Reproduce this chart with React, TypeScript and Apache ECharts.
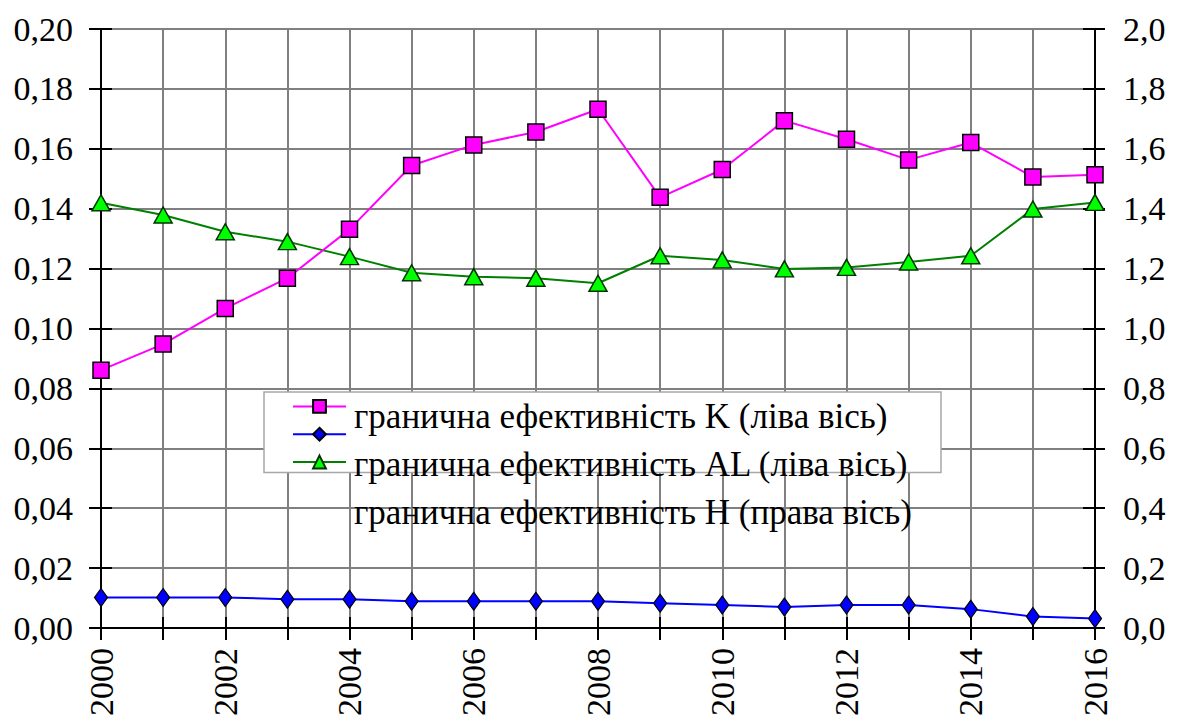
import React, { useEffect, useRef } from "react";
import * as echarts from "echarts";

const years = ["2000","2001","2002","2003","2004","2005","2006","2007","2008","2009","2010","2011","2012","2013","2014","2015","2016"];
const seriesK = [0.0861, 0.0948, 0.1067, 0.1168, 0.1331, 0.1544, 0.1613, 0.1656, 0.1732, 0.1438, 0.1531, 0.1694, 0.1632, 0.1563, 0.1621, 0.1506, 0.1513];
const seriesAL = [0.0102, 0.0102, 0.0102, 0.0096, 0.0096, 0.0089, 0.0089, 0.0089, 0.0089, 0.0083, 0.0077, 0.0070, 0.0077, 0.0077, 0.0063, 0.0038, 0.0032];
const seriesH = [1.420, 1.379, 1.323, 1.290, 1.240, 1.186, 1.173, 1.168, 1.151, 1.243, 1.229, 1.199, 1.204, 1.222, 1.243, 1.399, 1.421];
const leftTicks = [0, 0.02, 0.04, 0.06, 0.08, 0.1, 0.12, 0.14, 0.16, 0.18, 0.2];
const rightTicks = [0, 0.2, 0.4, 0.6, 0.8, 1.0, 1.2, 1.4, 1.6, 1.8, 2.0];
const yearLabels = ["2000","2002","2004","2006","2008","2010","2012","2014","2016"];
const names = [
  "гранична ефективність K (ліва вісь)",
  "гранична ефективність AL (ліва вісь)",
  "гранична ефективність H (права вісь)",
];

const FONT = "Liberation Serif";
const TICK_SIZE = 34;
const LEGEND_SIZE = 35;

export default function App() {
  const ref = useRef<HTMLDivElement>(null);
  useEffect(() => {
    const chart = echarts.init(ref.current!, undefined, { renderer: "svg" });
    const axisLineStyle = { color: "#000", width: 2 };
    const baseY = (min: number, max: number, interval: number) => ({
      type: "value" as const,
      min,
      max,
      interval,
    });
    chart.setOption({
      animation: false,
      backgroundColor: "#fff",
      grid: { left: 101, right: 88, top: 29, bottom: 94, containLabel: false },
      legend: {
        left: 264,
        top: 392,
        orient: "vertical",
        padding: [7, 586, 3, 28],
        itemGap: 13,
        itemWidth: 53,
        itemHeight: 16,
        borderColor: "#a8a8a8",
        borderWidth: 1.5,
        backgroundColor: "#fff",
        formatter: () => "",
        textStyle: { fontFamily: FONT, fontSize: LEGEND_SIZE, lineHeight: LEGEND_SIZE, color: "#000", padding: [0, 0, 0, 4] },
        data: names,
      },
      xAxis: [
        {
          type: "category",
          data: years,
          boundaryGap: false,
          axisLine: { lineStyle: axisLineStyle },
          axisTick: { show: true, interval: 0, length: 12, lineStyle: { color: "#000", width: 2 } },
          axisLabel: { show: false },
          splitLine: { show: true, interval: 0, lineStyle: { color: "#808080", width: 2 } },
        },
        {
          type: "category",
          data: years,
          boundaryGap: false,
          position: "bottom",
          axisLine: { show: false },
          axisTick: { show: true, inside: true, interval: 0, length: 11, lineStyle: { color: "#000", width: 2 } },
          axisLabel: { show: false },
          splitLine: { show: false },
        },
      ],
      yAxis: [
        {
          ...baseY(0, 0.2, 0.02),
          position: "left",
          axisLine: { show: true, lineStyle: axisLineStyle },
          axisTick: { show: true, length: 12, lineStyle: { color: "#000", width: 2 } },
          axisLabel: { show: false },
          splitLine: { show: true, lineStyle: { color: "#808080", width: 2 } },
        },
        {
          ...baseY(0, 2, 0.2),
          position: "right",
          axisLine: { show: true, lineStyle: axisLineStyle },
          axisTick: { show: true, length: 10, lineStyle: { color: "#000", width: 2 } },
          axisLabel: { show: false },
          splitLine: { show: false },
        },
        {
          ...baseY(0, 0.2, 0.02),
          position: "left",
          axisLine: { show: false },
          axisTick: { show: true, inside: true, length: 11, lineStyle: { color: "#000", width: 2 } },
          axisLabel: { show: false },
          splitLine: { show: false },
        },
        {
          ...baseY(0, 2, 0.2),
          position: "right",
          axisLine: { show: false },
          axisTick: { show: true, inside: true, length: 12, lineStyle: { color: "#000", width: 2 } },
          axisLabel: { show: false },
          splitLine: { show: false },
        },
      ],
      series: [
        {
          name: names[0],
          type: "line",
          yAxisIndex: 0,
          data: seriesK,
          symbol: "rect",
          symbolSize: 16,
          z: 4,
          lineStyle: { color: "#ff00ff", width: 2 },
          itemStyle: { color: "#ff00ff", borderColor: "#000", borderWidth: 1.5 },
        },
        {
          name: names[1],
          type: "line",
          yAxisIndex: 0,
          data: seriesAL,
          symbol: "diamond",
          symbolSize: [13, 18],
          z: 4,
          lineStyle: { color: "#0000ff", width: 2 },
          itemStyle: { color: "#0000ff", borderColor: "#000", borderWidth: 1.2 },
        },
        {
          name: names[2],
          type: "line",
          yAxisIndex: 1,
          data: seriesH,
          symbol: "triangle",
          symbolSize: [18, 16],
          z: 3,
          lineStyle: { color: "#008000", width: 2 },
          itemStyle: { color: "#00ff00", borderColor: "#003300", borderWidth: 1.5 },
        },
      ],
    });

    // Text labels placed through the chart's own scales, drawn as serif text.
    const xLeft = chart.convertToPixel({ xAxisIndex: 0 }, years[0]) as number;
    const xRight = chart.convertToPixel({ xAxisIndex: 0 }, years[years.length - 1]) as number;
    const yBottom = chart.convertToPixel({ yAxisIndex: 0 }, 0) as number;
    const txt = (extra: any) => ({ type: "text", silent: true, z: 100, ...extra });
    const elements: any[] = [];
    leftTicks.forEach((v) => {
      elements.push(
        txt({
          x: xLeft - 28,
          y: chart.convertToPixel({ yAxisIndex: 0 }, v) as number,
          style: { text: v.toFixed(2).replace(".", ","), fontFamily: FONT, fontSize: TICK_SIZE, fill: "#000", align: "right", verticalAlign: "middle" },
        })
      );
    });
    rightTicks.forEach((v) => {
      elements.push(
        txt({
          x: xRight + 28,
          y: chart.convertToPixel({ yAxisIndex: 1 }, v) as number,
          style: { text: v.toFixed(1).replace(".", ","), fontFamily: FONT, fontSize: TICK_SIZE, fill: "#000", align: "left", verticalAlign: "middle" },
        })
      );
    });
    yearLabels.forEach((yr) => {
      elements.push(
        txt({
          x: chart.convertToPixel({ xAxisIndex: 0 }, yr) as number,
          y: yBottom + 20,
          rotation: Math.PI / 2,
          style: { text: yr, fontFamily: FONT, fontSize: TICK_SIZE, fill: "#000", align: "right", verticalAlign: "middle" },
        })
      );
    });
    names.forEach((n, i) => {
      elements.push(
        txt({
          x: 264 + 28 + 53 + 5 + 4,
          y: 392 + 7 + LEGEND_SIZE / 2 + i * (LEGEND_SIZE + 13),
          style: { text: n, fontFamily: FONT, fontSize: LEGEND_SIZE, fill: "#000", align: "left", verticalAlign: "middle" },
        })
      );
    });
    chart.setOption({ graphic: elements });
    return () => chart.dispose();
  }, []);
  return (
    <div
      ref={ref}
      style={{ position: "absolute", left: 0, top: 0, width: 1183, height: 722 }}
    />
  );
}
